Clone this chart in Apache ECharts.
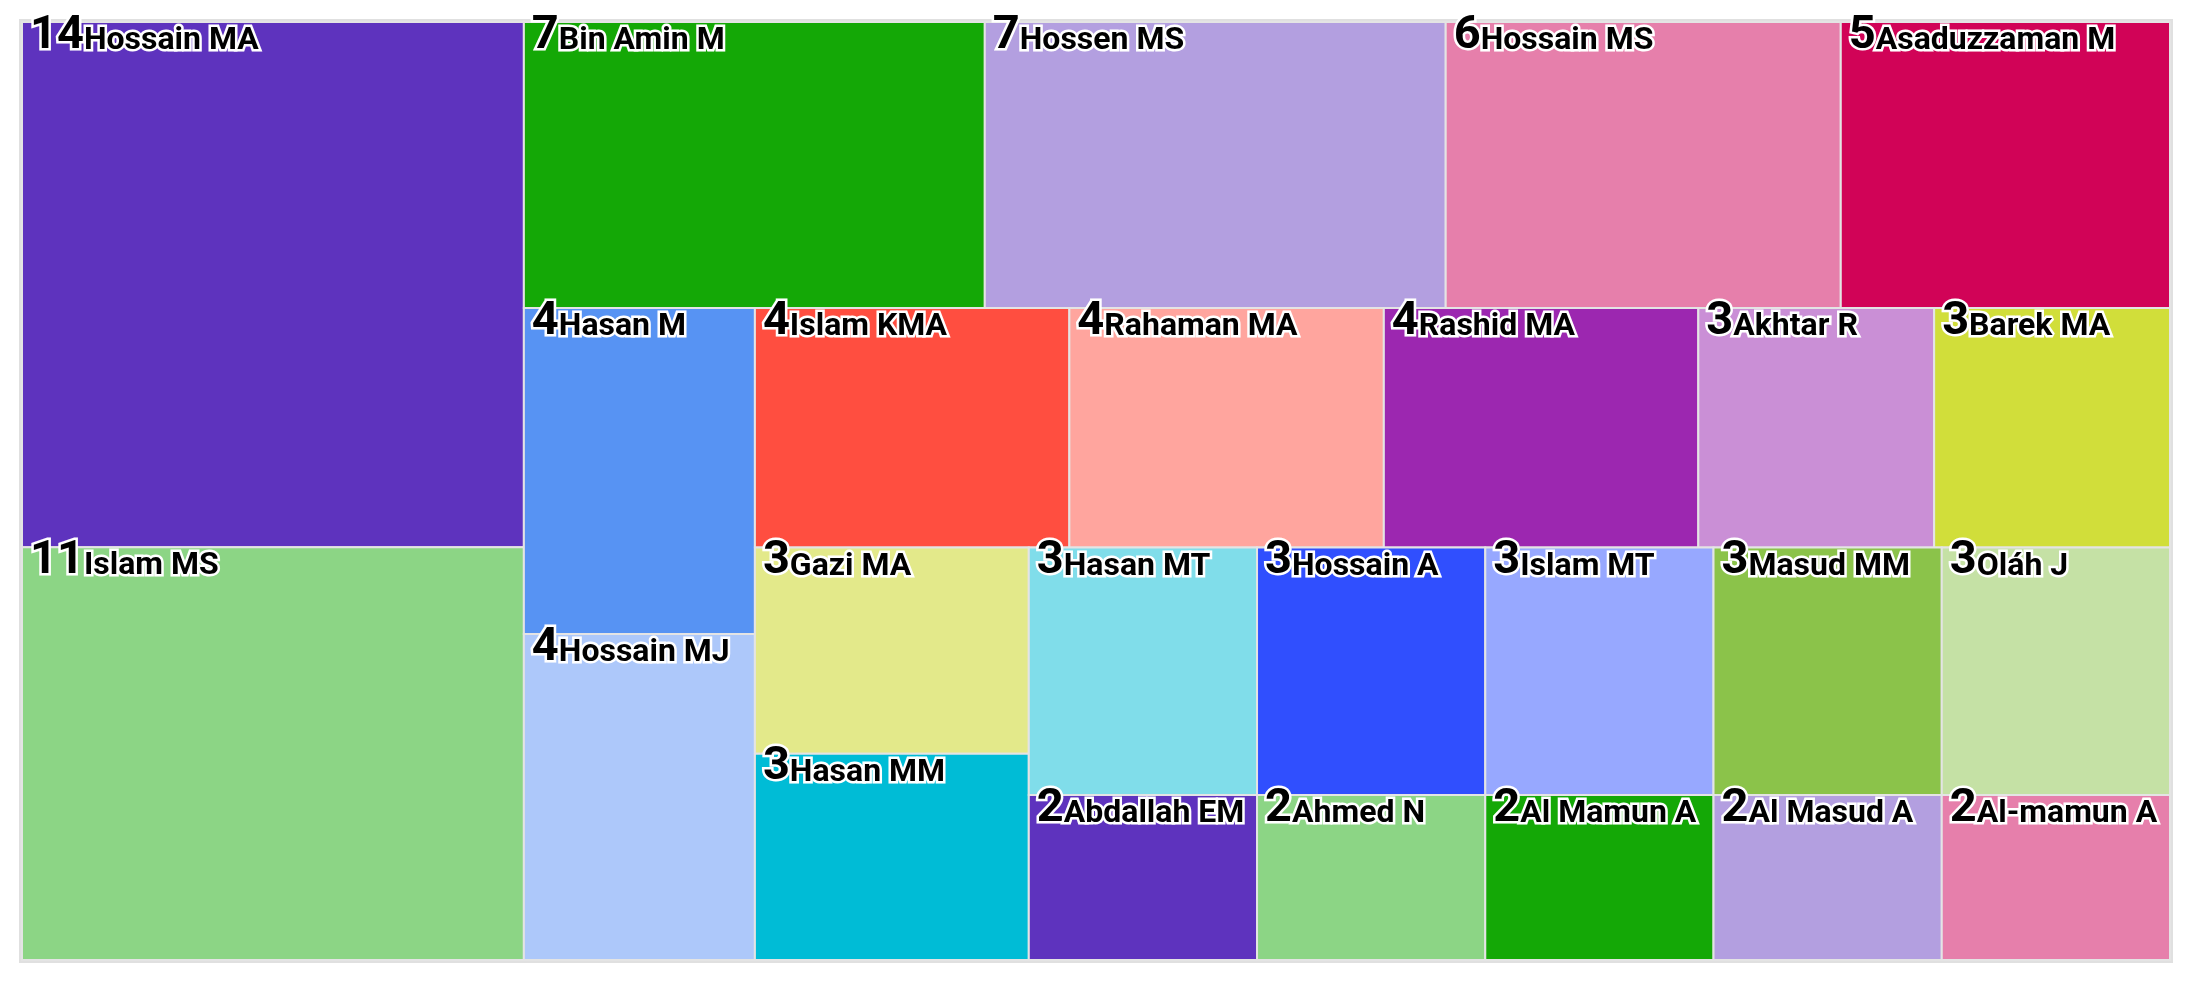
<!DOCTYPE html>
<html>
<head>
<meta charset="utf-8">
<script src="https://cdn.jsdelivr.net/npm/echarts@6/dist/echarts.min.js"></script>
<style>
html,body{margin:0;padding:0;background:#fff;}
#chart{width:2192px;height:992px;}
</style>
</head>
<body>
<div id="chart"></div>
<script>
// ---- data ----
const names = ["Hossain MA","Islam MS","Bin Amin M","Hossen MS","Hossain MS","Asaduzzaman M","Hasan M","Hossain MJ","Islam KMA","Rahaman MA","Rashid MA","Akhtar R","Barek MA","Gazi MA","Hasan MM","Hasan MT","Hossain A","Islam MT","Masud MM","Oláh J","Abdallah EM","Ahmed N","Al Mamun A","Al Masud A","Al-mamun A"];
const values = [14,11,7,7,6,5,4,4,4,4,4,3,3,3,3,3,3,3,3,3,2,2,2,2,2];
const palette = ["#5e33be","#8cd585","#14a806","#b39fe0","#e67fab","#d10357","#5793f3","#adc8fa","#ff4e40","#ffa59e","#9c27b0","#ca8fd6","#d1de3a","#e3e98a","#00bcd6","#80ddea","#304ffe","#97a8ff","#8bc34a","#c5e1a5"];

// ---- layout settings ----
const GRID = { left: 22, top: 22, width: 2148, height: 938 };
const VALUE_FONT = 47, NAME_FONT = 32;
const FONT_FAMILY = 'Roboto';

// Squarified treemap with alternating row direction (starts vertical)
function layoutSquarified(vals, W, H) {
  const total = vals.reduce((a, b) => a + b, 0);
  const parent = { x: 0, y: 0, width: W, height: H };
  const plot = { x: 0, y: 0 };
  const out = [];
  const ar = (w, h) => Math.max(w / h, h / w);
  const g = { height: H, width: W, direction: 0, total: 0, nW: 0, lW: 0, nH: 0, lH: 0, elArr: [],
              lP: { total: 0, lH: 0, nH: 0, lW: 0, nW: 0, nR: 0, lR: 0 } };
  function addElement(el) {
    const lP = g.lP;
    lP.total = g.elArr[g.elArr.length - 1];
    g.total += el;
    if (g.direction === 0) {
      g.lW = g.nW;
      lP.lH = lP.total / g.lW;
      lP.lR = ar(g.lW, lP.lH);
      g.nW = g.total / g.height;
      lP.nH = lP.total / g.nW;
      lP.nR = ar(g.nW, lP.nH);
    } else {
      g.lH = g.nH;
      lP.lW = lP.total / g.lH;
      lP.lR = ar(lP.lW, g.lH);
      g.nH = g.total / g.width;
      lP.nW = lP.total / g.nH;
      lP.nR = ar(lP.nW, g.nH);
    }
    g.elArr.push(el);
  }
  function reset() { g.nW = 0; g.lW = 0; g.elArr = []; g.total = 0; }
  function calcPoints(last) {
    let gW = g.lW, gH = g.lH, keep;
    if (last) { gW = g.nW; gH = g.nH; } else { keep = g.elArr[g.elArr.length - 1]; }
    const end = g.elArr.length - 1;
    g.elArr.forEach((p, i) => {
      if (last || i < end) {
        let pw, ph;
        if (g.direction === 0) { pw = gW; ph = p / pw; } else { ph = gH; pw = p / ph; }
        out.push([plot.x, plot.y, pw, ph]);
        if (g.direction === 0) plot.y += ph; else plot.x += pw;
      }
    });
    reset();
    if (g.direction === 0) g.width -= gW; else g.height -= gH;
    plot.y = parent.y + (parent.height - g.height);
    plot.x = parent.x + (parent.width - g.width);
    g.direction = 1 - g.direction;
    if (!last) addElement(keep);
  }
  vals.forEach((v, i) => {
    addElement(W * H * v / total);
    if (g.lP.nR > g.lP.lR) calcPoints(false);
    if (i === vals.length - 1) calcPoints(true);
  });
  return out;
}

const rects = layoutSquarified(values, GRID.width, GRID.height);
const seriesData = rects.map((r, i) => [r[0], r[1], r[2], r[3], values[i], i]);

const measureCtx = document.createElement('canvas').getContext('2d');
function textWidth(str, size) {
  measureCtx.font = 'bold ' + size + 'px ' + FONT_FAMILY;
  return measureCtx.measureText(str).width;
}
const BASE_K = 0.342;
const BASELINE_OFFSET = 30;

const chart = echarts.init(document.getElementById('chart'));
chart.setOption({
  animation: false,
  grid: { left: GRID.left, top: GRID.top, width: GRID.width, height: GRID.height,
          show: true, borderColor: '#e0e0e0', borderWidth: 6, backgroundColor: 'transparent' },
  xAxis: { type: 'value', min: 0, max: GRID.width, show: false },
  yAxis: { type: 'value', min: 0, max: GRID.height, inverse: true, show: false },
  series: [{
    type: 'custom',
    coordinateSystem: 'cartesian2d',
    data: seriesData,
    encode: { x: [0], y: [1] },
    renderItem: function (params, api) {
      const x0 = api.value(0), y0 = api.value(1), w = api.value(2), h = api.value(3);
      const idx = api.value(5);
      const p0 = api.coord([x0, y0]);
      const p1 = api.coord([x0 + w, y0 + h]);
      const left = Math.min(p0[0], p1[0]), top = Math.min(p0[1], p1[1]);
      const width = Math.abs(p1[0] - p0[0]), height = Math.abs(p1[1] - p0[1]);
      const valStr = String(api.value(4));
      const nameStr = names[idx];
      const baseline = top + BASELINE_OFFSET;
      const tx = left + 8;
      const vw = textWidth(valStr, VALUE_FONT);
      return {
        type: 'group',
        children: [
          { type: 'rect', shape: { x: left, y: top, width: width, height: height },
            style: { fill: palette[idx % palette.length], stroke: '#e4e4e4', lineWidth: 2 } },
          { type: 'text', x: tx, y: baseline - BASE_K * VALUE_FONT, z2: 10,
            style: { text: valStr, font: 'bold ' + VALUE_FONT + 'px ' + FONT_FAMILY,
                     fill: '#000', stroke: '#fff', lineWidth: 5, align: 'left', verticalAlign: 'middle' } },
          { type: 'text', x: tx + vw, y: baseline - BASE_K * NAME_FONT, z2: 10,
            style: { text: nameStr, font: 'bold ' + NAME_FONT + 'px ' + FONT_FAMILY,
                     fill: '#000', stroke: '#fff', lineWidth: 5, align: 'left', verticalAlign: 'middle' } }
        ]
      };
    }
  }]
});
</script>
</body>
</html>
